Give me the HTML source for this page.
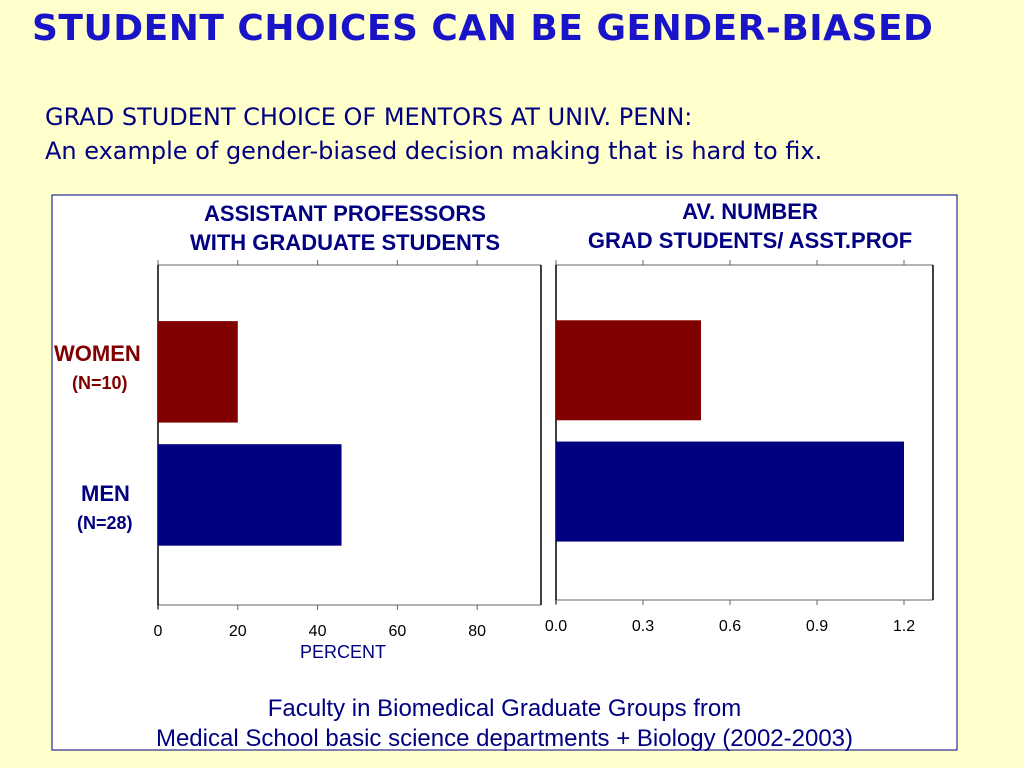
<!DOCTYPE html>
<html><head><meta charset="utf-8"><style>
body{margin:0;width:1024px;height:768px;background:#ffffcc;font-family:"Liberation Sans",sans-serif;overflow:hidden;position:relative}
.t{position:absolute;white-space:nowrap}
</style></head><body>
<div class="t" style="left:32px;top:8px;font-size:36px;font-weight:bold;color:#1a14c8;font-family:'DejaVu Sans',sans-serif;letter-spacing:0.5px">STUDENT CHOICES CAN BE GENDER-BIASED</div>
<div class="t" style="left:45px;top:103px;font-size:24px;color:#000080;font-family:'DejaVu Sans',sans-serif">GRAD STUDENT CHOICE OF MENTORS AT UNIV. PENN:</div>
<div class="t" style="left:45px;top:137px;font-size:24px;color:#000080;font-family:'DejaVu Sans',sans-serif">An example of gender-biased decision making that is hard to fix.</div>
<svg width="1024" height="768" style="position:absolute;left:0;top:0">
<rect x="52" y="195" width="905" height="555" fill="#fff" stroke="#000080" stroke-width="1"/>
<g id="g"></g>
</svg>
<script>
const categories=["WOMEN","MEN"];
const pctValues=[20,46];
const avgValues=[0.5,1.2];
const pctTicks=[0,20,40,60,80];
const avgTicks=["0.0","0.3","0.6","0.9","1.2"];
const colors=["#800000","#000080"];
const g=document.getElementById('g');
const NS='http://www.w3.org/2000/svg';
function mk(tag,attrs,name){const e=document.createElementNS(NS,tag);for(const k in attrs)e.setAttribute(k,attrs[k]);


g.appendChild(e);return e;}
function panel(x0,x1,top,bot,max,vals,ticks,tickVals,prefix,labelY){
 const sx=v=>x0+(x1-x0)*v/max;
 mk('rect',{x:x0,y:top,width:x1-x0,height:bot-top,fill:'#fff',stroke:'none'},prefix+'-plot');
 mk('line',{x1:x0,y1:top,x2:x1,y2:top,stroke:'#666','stroke-width':1},prefix+'-top-axis');
 mk('line',{x1:x0,y1:bot,x2:x1,y2:bot,stroke:'#666','stroke-width':1},prefix+'-x-axis');
 mk('line',{x1:x0,y1:top,x2:x0,y2:bot+4,stroke:'#000','stroke-width':1.5},prefix+'-y-axis');
 mk('line',{x1:x1,y1:top,x2:x1,y2:bot,stroke:'#000','stroke-width':1.5},prefix+'-right-axis');
 const bh=(bot-top)/3.35, step=(bot-top)*0.362, start=top+(bot-top)*0.165;
 vals.forEach((v,i)=>{mk('rect',{x:x0,y:start+i*step,width:sx(v)-x0,height:bh,fill:colors[i]},prefix+'-bar-'+categories[i].toLowerCase());});
 tickVals.forEach((tv,i)=>{const x=sx(tv);
  mk('line',{x1:x,y1:bot,x2:x,y2:bot+5,stroke:'#666'},prefix+'-tick');
  mk('line',{x1:x,y1:top,x2:x,y2:top-5,stroke:'#666'},prefix+'-top-tick');
  const t=mk('text',{x:x,y:labelY,'text-anchor':'middle','font-size':16,fill:'#000','font-family':'Liberation Sans'},prefix+'-tick-label');t.textContent=ticks[i];});
}
panel(158,541,265,605,96,pctValues,pctTicks,pctTicks,'pct',636);
panel(556,933,265,600,1.3,avgValues,avgTicks,avgTicks.map(Number),'avg',631);
</script>
<div class="t" style="left:160px;top:199px;width:370px;text-align:center;font-size:22px;font-weight:bold;color:#000080;line-height:29px">ASSISTANT PROFESSORS<br>WITH GRADUATE STUDENTS</div>
<div class="t" style="left:560px;top:197px;width:380px;text-align:center;font-size:22px;font-weight:bold;color:#000080;line-height:29px">AV. NUMBER<br>GRAD STUDENTS/ ASST.PROF</div>
<div class="t" style="left:54px;top:341px;font-size:22px;font-weight:bold;color:#800000">WOMEN</div>
<div class="t" style="left:72px;top:373px;font-size:18px;font-weight:bold;color:#800000">(N=10)</div>
<div class="t" style="left:81px;top:481px;font-size:22px;font-weight:bold;color:#000080">MEN</div>
<div class="t" style="left:77px;top:513px;font-size:18px;font-weight:bold;color:#000080">(N=28)</div>
<div class="t" style="left:300px;top:642px;font-size:18px;color:#000080">PERCENT</div>
<div class="t" style="left:52px;top:694px;width:905px;text-align:center;font-size:24px;color:#000080;line-height:30px">Faculty in Biomedical Graduate Groups from<br>Medical School basic science departments + Biology (2002-2003)</div>
</body></html>
